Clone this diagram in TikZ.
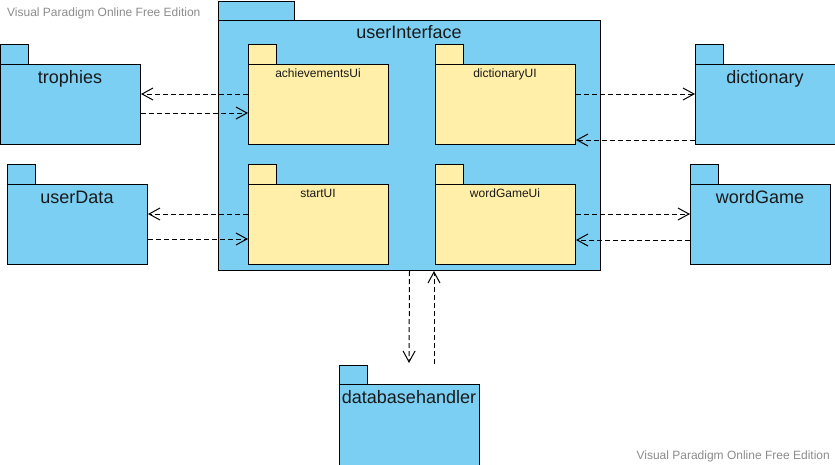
\documentclass[tikz,border=0pt]{standalone}
\usepackage{fontspec}
\setmainfont{Liberation Sans}
\usetikzlibrary{arrows.meta}
\definecolor{pkgblue}{HTML}{7ACFF3}
\definecolor{pkgyellow}{HTML}{FFEFA8}
\definecolor{wmgrey}{HTML}{8C8C8C}
\begin{document}
\begin{tikzpicture}[x=1pt,y=-1pt,
  pkgtab/.style={draw=black, line width=1pt, fill=#1, anchor=north west, inner sep=0pt, minimum width=28pt, minimum height=20pt},
  pkgbody/.style={draw=black, line width=1pt, fill=#1, anchor=north west, inner sep=0pt, minimum width=140pt, minimum height=80pt},
  biglabel/.style={anchor=base, inner sep=0pt, font=\fontsize{18}{20}\selectfont, text=black!90},
  smalllabel/.style={anchor=base, inner sep=0pt, font=\fontsize{12}{14}\selectfont, text=black!90},
  watermark/.style={inner sep=0pt, font=\fontsize{12}{14}\selectfont, text=wmgrey},
  dep/.style={draw=black, line width=1pt, dash pattern=on 5pt off 3pt, -{Straight Barb[length=11pt,width=12pt,line width=1pt]}}
]
\useasboundingbox (0,0) rectangle (835,464);
\fill[white] (0,0) rectangle (835,464);

% watermarks
\node[watermark, anchor=base west] (wm1) at (7,16) {Visual Paradigm Online Free Edition};
\node[watermark, anchor=base east] (wm2) at (830,459) {Visual Paradigm Online Free Edition};

% userInterface
\node[pkgtab=pkgblue, minimum width=76pt, minimum height=19pt] (uiTab) at (218,1) {};
\node[pkgbody=pkgblue, minimum width=382pt, minimum height=250pt] (ui) at (218,20) {};
\node[biglabel] (uiL) at (409,38) {userInterface};

% inner packages
\node[pkgtab=pkgyellow] (achTab) at (248,44) {};
\node[pkgbody=pkgyellow] (ach) at (248,64) {};
\node[smalllabel] (achL) at (318,77) {achievementsUi};

\node[pkgtab=pkgyellow] (dicUiTab) at (435,44) {};
\node[pkgbody=pkgyellow] (dicUi) at (435,64) {};
\node[smalllabel] (dicUiL) at (505,77) {dictionaryUI};

\node[pkgtab=pkgyellow] (startTab) at (248,164) {};
\node[pkgbody=pkgyellow] (start) at (248,184) {};
\node[smalllabel] (startL) at (318,197) {startUI};

\node[pkgtab=pkgyellow] (wgUiTab) at (435,164) {};
\node[pkgbody=pkgyellow] (wgUi) at (435,184) {};
\node[smalllabel] (wgUiL) at (505,197) {wordGameUi};

% outer packages
\node[pkgtab=pkgblue] (troTab) at (0,44) {};
\node[pkgbody=pkgblue] (tro) at (0,64) {};
\node[biglabel] (troL) at (70,83) {trophies};

\node[pkgtab=pkgblue] (dicTab) at (695,44) {};
\node[pkgbody=pkgblue] (dic) at (695,64) {};
\node[biglabel] (dicL) at (765,83) {dictionary};

\node[pkgtab=pkgblue] (udTab) at (7,164) {};
\node[pkgbody=pkgblue] (ud) at (7,184) {};
\node[biglabel] (udL) at (77,203) {userData};

\node[pkgtab=pkgblue] (wgTab) at (690,164) {};
\node[pkgbody=pkgblue] (wg) at (690,184) {};
\node[biglabel] (wgL) at (760,203) {wordGame};

\node[pkgtab=pkgblue] (dbTab) at (339,365) {};
\node[pkgbody=pkgblue, minimum height=100pt] (db) at (339,384) {};
\node[biglabel] (dbL) at (409,403) {databasehandler};

% dependencies
\draw[dep] (ach.west |- 0,94) -- (tro.east |- 0,94);
\draw[dep] (tro.east |- 0,113) -- (ach.west |- 0,113);
\draw[dep] (dicUi.east |- 0,94) -- (dic.west |- 0,94);
\draw[dep] (dic.west |- 0,140) -- (dicUi.east |- 0,140);
\draw[dep] (start.west |- 0,214) -- (ud.east |- 0,214);
\draw[dep] (ud.east |- 0,239) -- (start.west |- 0,239);
\draw[dep] (wgUi.east |- 0,214) -- (wg.west |- 0,214);
\draw[dep] (wg.west |- 0,240) -- (wgUi.east |- 0,240);
\coordinate (dbIn) at (409,363);
\coordinate (dbOut) at (434,364);
\draw[dep] (ui.south) -- (dbIn);
\draw[dep] (dbOut) -- (ui.south -| dbOut);
\end{tikzpicture}
\end{document}
